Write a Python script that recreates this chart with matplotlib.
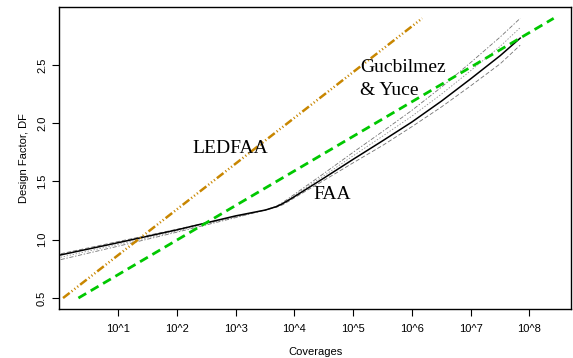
import numpy as np
import matplotlib
matplotlib.use('Agg')
import matplotlib.pyplot as plt

matplotlib.rcParams.update({'font.family': 'Liberation Sans', 'font.size': 8,
                            'lines.scale_dashes': False})

# FAA curve and its gray companion curves (coverage vs design factor)
cov = [1.05, 10, 100, 1000, 3200, 5000, 6300, 8000, 1e4, 3.2e4, 1e5, 3.2e5, 1e6, 3.2e6, 1e7, 3.2e7, 7e7]
faa = [0.87, 0.975, 1.085, 1.205, 1.255, 1.285, 1.31, 1.34, 1.37, 1.53, 1.69, 1.85, 2.01, 2.19, 2.38, 2.58, 2.73]
gray_a = [0.88, 0.985, 1.09, 1.20, 1.255, 1.28, 1.30, 1.33, 1.36, 1.51, 1.66, 1.81, 1.97, 2.14, 2.32, 2.51, 2.67]
gray_b = [0.85, 0.96, 1.075, 1.195, 1.255, 1.285, 1.31, 1.345, 1.38, 1.55, 1.72, 1.89, 2.06, 2.25, 2.45, 2.66, 2.82]
gray_c = [0.83, 0.945, 1.065, 1.19, 1.255, 1.29, 1.32, 1.355, 1.39, 1.57, 1.75, 1.93, 2.11, 2.31, 2.52, 2.74, 2.90]

# LEDFAA and Gucbilmez & Yuce straight lines
led_cov = [1.15, 1.5e6]
led_df = [0.5, 2.90]
gy_cov = [2.1, 2.6e8]
gy_df = [0.5, 2.90]

xticks = [1e1, 1e2, 1e3, 1e4, 1e5, 1e6, 1e7, 1e8]
xlabels = ['10^1', '10^2', '10^3', '10^4', '10^5', '10^6', '10^7', '10^8']
yticks = [0.5, 1.0, 1.5, 2.0, 2.5]

fig = plt.figure(figsize=(5.73, 3.58), dpi=100)
ax = fig.add_axes([0.1038, 0.1369, 0.8927, 0.8435])

ax.plot(cov, gray_a, color='0.45', lw=0.6, ls=(0, (3, 1.5)))
ax.plot(cov, gray_b, color='0.55', lw=0.6, ls=(0, (1, 1.2)))
ax.plot(cov, gray_c, color='0.45', lw=0.6, ls=(0, (3, 1.2, 1, 1.2)))
ax.plot(cov, faa, color='black', lw=1.1)
ax.plot(led_cov, led_df, color='#C88600', lw=1.8,
        ls=(0, (6, 1.8, 0.8, 1.8, 0.8, 1.8, 0.8, 1.8)))
ax.plot(gy_cov, gy_df, color='#00C800', lw=2.0, ls=(0, (6.5, 3.8)))

serif = dict(family='Liberation Serif', fontsize=14)
ax.text(182, 1.746, 'LEDFAA', ha='left', va='baseline', **serif)
ax.text(2.1e4, 1.35, 'FAA', ha='left', va='baseline', **serif)
ax.text(1.3e5, 2.44, 'Gucbilmez', ha='left', va='baseline', **serif)
ax.text(1.3e5, 2.24, '& Yuce', ha='left', va='baseline', **serif)

ax.set_xscale('log')
ax.set_xlim(1, 10 ** 8.71)
ax.set_ylim(0.406, 2.997)
ax.set_xticks(xticks)
ax.set_xticklabels(xlabels)
ax.minorticks_off()
ax.set_yticks(yticks)
ax.set_yticklabels(['0.5', '1.0', '1.5', '2.0', '2.5'], rotation=90, va='center')
ax.tick_params(axis='x', length=5, width=0.8, pad=6)
ax.tick_params(axis='y', length=5, width=0.8, pad=4)
for s in ax.spines.values():
    s.set_linewidth(1.0)
ax.set_xlabel('Coverages', labelpad=9)
ax.set_ylabel('Design Factor, DF', labelpad=6)

plt.savefig('out.png', dpi=100)
